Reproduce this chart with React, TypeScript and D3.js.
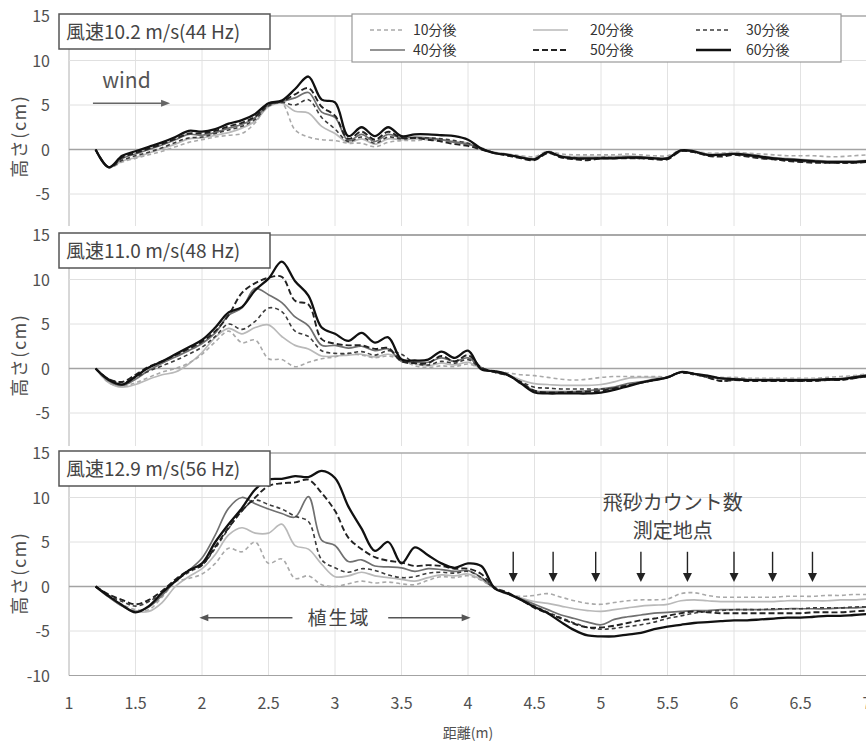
import React from 'react';
import * as d3 from 'd3';

// distance along the flume (m), one sample every 0.1 m
const distance = [
  1.2, 1.3, 1.4, 1.5, 1.6, 1.7, 1.8, 1.9, 2.0, 2.1,
  2.2, 2.3, 2.4, 2.5, 2.6, 2.7, 2.8, 2.9, 3.0, 3.1,
  3.2, 3.3, 3.4, 3.5, 3.6, 3.7, 3.8, 3.9, 4.0, 4.1,
  4.2, 4.3, 4.4, 4.5, 4.6, 4.7, 4.8, 4.9, 5.0, 5.1,
  5.2, 5.3, 5.4, 5.5, 5.6, 5.7, 5.8, 5.9, 6.0, 6.1,
  6.2, 6.3, 6.4, 6.5, 6.6, 6.7, 6.8, 6.9, 7.0,
];

const seriesNames = ['10分後', '20分後', '30分後', '40分後', '50分後', '60分後'];
const panelTitles = ['風速10.2 m/s(44 Hz)', '風速11.0 m/s(48 Hz)', '風速12.9 m/s(56 Hz)'];
const xTicks = [1, 1.5, 2, 2.5, 3, 3.5, 4, 4.5, 5, 5.5, 6, 6.5, 7];
const yTicks = [15, 10, 5, 0, -5, -10];
const measurePoints = [4.34, 4.64, 4.96, 5.3, 5.65, 6.0, 6.29, 6.59];

// panel 1 : 10.2 m/s
const p1_10 = [
  0, -2.0, -1.4, -1.0, -0.6, -0.2, 0.3, 0.8, 1.1, 1.4,
  1.6, 1.8, 3.0, 5.0, 5.2, 2.2, 1.4, 1.1, 1.0, 0.7,
  0.7, 0.3, 0.8, 1.0, 1.0, 1.1, 1.0, 0.8, 0.6, 0.2,
  -0.3, -0.5, -0.7, -0.8, -0.2, -0.5, -0.6, -0.6, -0.6, -0.6,
  -0.5, -0.6, -0.7, -0.7, -0.1, -0.2, -0.4, -0.4, -0.3, -0.4,
  -0.5, -0.6, -0.7, -0.7, -0.7, -0.8, -0.8, -0.7, -0.6,
];
const p1_20 = [
  0, -2.0, -1.3, -0.9, -0.4, 0.1, 0.6, 1.2, 1.3, 1.6,
  1.9, 2.4, 3.2, 4.8, 5.2, 4.3, 4.1, 2.6, 1.8, 0.8,
  1.2, 0.6, 1.2, 1.1, 1.2, 1.2, 1.1, 0.9, 0.7, 0.1,
  -0.4, -0.6, -0.8, -1.0, -0.3, -0.7, -0.8, -0.8, -0.8, -0.8,
  -0.7, -0.8, -0.9, -0.9, -0.1, -0.2, -0.5, -0.5, -0.4, -0.5,
  -0.7, -0.9, -1.0, -1.1, -1.2, -1.3, -1.3, -1.3, -1.2,
];
const p1_30 = [
  0, -2.0, -1.2, -0.7, -0.3, 0.2, 0.8, 1.3, 1.4, 1.8,
  2.2, 2.6, 3.4, 4.9, 5.3, 5.0, 5.6, 3.6, 2.3, 0.9,
  1.4, 0.7, 1.4, 1.2, 1.3, 1.3, 1.2, 1.0, 0.7, 0.1,
  -0.4, -0.6, -0.9, -1.1, -0.3, -0.8, -0.9, -1.1, -0.9, -0.9,
  -0.9, -1.0, -1.0, -1.0, -0.2, -0.3, -0.6, -0.7, -0.5, -0.7,
  -0.9, -1.1, -1.2, -1.3, -1.4, -1.5, -1.5, -1.5, -1.4,
];
const p1_40 = [
  0, -2.0, -1.0, -0.5, 0.0, 0.5, 1.1, 1.7, 1.6, 1.9,
  2.4, 2.8, 3.6, 5.0, 5.4, 5.8, 6.4, 4.2, 3.6, 1.0,
  1.7, 0.9, 1.7, 1.3, 1.4, 1.3, 1.1, 0.8, 0.6, 0.1,
  -0.4, -0.6, -0.9, -1.1, -0.3, -0.8, -1.0, -1.0, -1.0, -0.9,
  -0.9, -0.9, -1.0, -1.0, -0.1, -0.3, -0.6, -0.6, -0.5, -0.7,
  -0.9, -1.0, -1.2, -1.3, -1.4, -1.4, -1.4, -1.4, -1.3,
];
const p1_50 = [
  0, -2.0, -0.9, -0.4, 0.1, 0.6, 1.2, 1.8, 1.8, 2.1,
  2.6, 3.0, 3.7, 5.1, 5.4, 6.2, 6.9, 4.8, 3.8, 1.2,
  2.0, 1.1, 2.0, 1.3, 1.3, 1.1, 0.9, 0.6, 0.4, 0.0,
  -0.4, -0.7, -1.0, -1.2, -0.4, -0.9, -1.1, -1.2, -1.0, -1.0,
  -1.0, -1.0, -1.1, -1.1, -0.2, -0.3, -0.7, -0.8, -0.6, -0.8,
  -1.0, -1.1, -1.3, -1.4, -1.5, -1.5, -1.5, -1.5, -1.4,
];
const p1_60 = [
  0, -2.0, -0.7, -0.2, 0.3, 0.8, 1.4, 2.1, 2.0, 2.3,
  2.9, 3.3, 4.0, 5.2, 5.5, 6.8, 8.2, 5.6, 5.3, 1.5,
  2.5, 1.5, 2.5, 1.5, 1.7, 1.7, 1.6, 1.5, 1.1, 0.1,
  -0.4, -0.6, -0.9, -1.1, -0.3, -0.8, -1.0, -1.0, -1.0, -1.0,
  -0.9, -0.9, -1.0, -1.0, -0.1, -0.2, -0.6, -0.6, -0.5, -0.6,
  -0.8, -1.0, -1.1, -1.2, -1.3, -1.4, -1.4, -1.4, -1.3,
];

// panel 2 : 11.0 m/s
const p2_10 = [
  0, -1.6, -2.0, -1.6, -1.0, -0.4, 0.0, 0.6, 1.6, 3.0,
  4.2, 2.9, 3.2, 1.1, 1.0, 0.2, 0.7, 1.1, 1.3, 1.7,
  1.5, 1.2, 1.4, 1.0, 0.3, 0.1, 0.3, 0.2, 0.5, 0.0,
  -0.3, -0.5, -0.7, -0.8, -1.0, -1.2, -1.3, -1.2, -1.0, -0.9,
  -0.9, -0.9, -0.9, -0.9, -0.4, -0.6, -0.8, -1.0, -1.0, -1.1,
  -1.1, -1.1, -1.1, -1.1, -1.1, -1.0, -0.9, -0.8, -0.6,
];
const p2_20 = [
  0, -1.6, -2.1, -1.8, -1.2, -0.7, -0.4, 0.5, 1.8, 3.5,
  4.5, 3.9, 4.6, 4.9, 3.6, 2.6, 2.2, 1.4, 1.4, 1.5,
  1.6, 1.3, 1.6, 1.1, 0.5, 0.3, 0.6, 0.4, 0.7, 0.0,
  -0.4, -0.7, -1.3, -1.7, -1.8, -1.9, -1.9, -1.9, -1.8, -1.5,
  -1.1, -1.0, -1.0, -1.0, -0.4, -0.6, -0.9, -1.1, -1.1, -1.2,
  -1.2, -1.2, -1.2, -1.2, -1.2, -1.2, -1.1, -0.9, -0.7,
];
const p2_30 = [
  0, -1.2, -1.6, -1.0, -0.3, 0.3, 0.9, 1.6, 2.4, 3.6,
  5.0, 4.4, 5.3, 6.8, 6.4, 4.2, 3.6, 2.0, 1.7, 1.7,
  1.9, 1.5, 2.0, 1.6, 0.6, 0.4, 0.8, 0.6, 1.0, 0.0,
  -0.4, -0.8, -1.5, -2.1, -2.2, -2.3, -2.3, -2.3, -2.3, -2.2,
  -1.9, -1.6, -1.3, -1.0, -0.5, -0.7, -1.0, -1.4, -1.3, -1.3,
  -1.3, -1.4, -1.4, -1.4, -1.4, -1.3, -1.3, -1.1, -0.9,
];
const p2_40 = [
  0, -1.4, -1.9, -1.2, -0.2, 0.6, 1.3, 2.0, 2.8, 4.0,
  6.0, 6.8, 9.0, 8.3, 7.4, 5.8, 4.8, 2.6, 2.6, 2.3,
  2.5, 2.0, 2.2, 0.8, 0.7, 0.7, 1.2, 0.8, 1.2, 0.1,
  -0.4, -0.7, -1.6, -2.5, -2.6, -2.6, -2.6, -2.5, -2.3, -2.1,
  -1.7, -1.5, -1.2, -1.0, -0.4, -0.6, -0.9, -1.1, -1.2, -1.3,
  -1.3, -1.3, -1.3, -1.3, -1.3, -1.3, -1.2, -1.0, -0.8,
];
const p2_50 = [
  0, -1.2, -1.5, -0.7, 0.2, 0.8, 1.5, 2.2, 3.0, 4.2,
  6.0, 8.5, 9.6, 10.2, 10.3, 7.6, 7.2, 3.3, 2.8, 2.6,
  2.6, 2.2, 2.3, 0.8, 0.6, 0.6, 1.4, 0.8, 1.5, 0.1,
  -0.4, -0.8, -1.6, -2.5, -2.7, -2.7, -2.6, -2.6, -2.5, -2.2,
  -1.9, -1.6, -1.3, -1.0, -0.4, -0.6, -1.0, -1.4, -1.3, -1.4,
  -1.4, -1.4, -1.4, -1.4, -1.4, -1.3, -1.3, -1.1, -0.9,
];
const p2_60 = [
  0, -1.3, -1.8, -0.9, 0.1, 0.8, 1.6, 2.4, 3.2, 4.6,
  6.3, 6.9, 8.8, 10.1, 12.0, 9.8, 8.2, 4.6, 3.9, 3.1,
  4.0, 2.9, 3.5, 1.0, 0.9, 1.0, 1.9, 1.2, 2.0, -0.1,
  -0.3, -0.7, -1.7, -2.7, -2.8, -2.8, -2.8, -2.8, -2.7, -2.4,
  -2.0, -1.6, -1.3, -1.0, -0.4, -0.6, -0.8, -1.1, -1.2, -1.3,
  -1.3, -1.3, -1.3, -1.3, -1.3, -1.2, -1.2, -1.0, -0.8,
];

// panel 3 : 12.9 m/s
const p3_10 = [
  0, -1.1, -2.0, -2.6, -2.6, -1.2, 0.5, 0.9, 1.4, 2.6,
  4.3, 3.9, 5.0, 2.6, 3.1, 0.9, 1.2, 0.2, 0.0, 0.3,
  0.6, 0.4, 0.5, 0.3, 0.2, 0.7, 1.1, 1.0, 1.2, 0.7,
  -0.2, -0.9, -1.1, -1.0, -0.8, -1.2, -1.6, -1.9, -2.0, -1.8,
  -1.6, -1.5, -1.5, -1.4, -0.8, -0.7, -1.0, -1.2, -1.2, -1.2,
  -1.2, -1.2, -1.1, -1.1, -1.1, -1.0, -1.0, -0.9, -0.9,
];
const p3_20 = [
  0, -1.2, -2.2, -2.8, -2.8, -1.8, 0.0, 1.1, 2.0, 3.6,
  5.8, 6.6, 6.0, 6.0, 7.0, 4.6, 4.2, 2.5, 1.1, 1.2,
  1.6, 1.2, 1.0, 0.8, 0.6, 1.0, 1.3, 1.2, 1.4, 0.8,
  -0.2, -0.8, -1.3, -1.7, -1.9, -2.2, -2.5, -2.7, -2.8, -2.6,
  -2.4, -2.2, -2.1, -2.0, -1.6, -1.5, -1.6, -1.7, -1.7, -1.7,
  -1.7, -1.7, -1.6, -1.6, -1.6, -1.6, -1.5, -1.5, -1.4,
];
const p3_30 = [
  0, -1.0, -1.7, -2.2, -1.7, -0.7, 0.6, 1.6, 2.4, 4.3,
  6.5, 8.5, 9.7, 9.2, 8.7, 7.9, 7.3, 3.0, 2.1, 1.6,
  2.0, 1.8, 1.3, 1.0, 1.1, 1.5, 1.6, 1.5, 1.7, 1.0,
  -0.2, -0.8, -1.5, -2.2, -2.9, -3.5, -4.1, -4.6, -4.8, -4.7,
  -4.5, -4.3, -4.0, -3.6, -3.3, -3.0, -2.8, -2.7, -2.6, -2.6,
  -2.6, -2.5, -2.5, -2.5, -2.4, -2.4, -2.4, -2.3, -2.3,
];
const p3_40 = [
  0, -1.2, -2.2, -2.8, -2.3, -1.0, 0.6, 1.8, 3.2, 5.8,
  8.8, 10.0, 9.3, 8.7, 8.2, 7.8, 10.1, 5.2, 4.6, 2.8,
  3.0, 2.3, 2.2, 2.1, 1.7, 2.0, 1.9, 1.7, 1.8, 1.0,
  -0.2, -0.8, -1.4, -2.0, -2.6, -3.2, -3.6, -4.0, -4.3, -3.7,
  -3.4, -3.2, -3.0, -2.9, -2.8, -2.7, -2.7, -2.6, -2.6, -2.6,
  -2.6, -2.6, -2.5, -2.5, -2.5, -2.5, -2.4, -2.4, -2.3,
];
const p3_50 = [
  0, -0.9, -1.5, -2.0, -1.5, -0.5, 0.8, 1.8, 2.4, 4.5,
  6.6, 8.5, 10.0, 11.3, 11.6, 11.7, 12.0, 10.5, 8.5, 5.5,
  4.2, 3.3, 2.9, 2.7, 2.3, 2.4, 2.3, 2.0, 2.0, 1.4,
  -0.1, -0.7, -1.5, -2.4, -3.0, -3.6, -4.2, -4.6, -4.6, -4.4,
  -4.1, -3.8, -3.6, -3.3, -3.0, -2.8, -2.9, -3.0, -3.0, -3.0,
  -3.0, -3.0, -3.0, -3.0, -2.9, -2.9, -2.9, -2.8, -2.7,
];
const p3_60 = [
  0, -1.1, -2.1, -2.9, -2.2, -0.7, 0.6, 1.8, 2.6, 5.0,
  7.0, 8.8, 10.9, 12.0, 12.1, 12.4, 12.3, 13.0, 12.2, 9.0,
  6.5, 4.0, 5.0, 2.6, 4.4, 3.5, 2.6, 2.1, 2.6, 2.3,
  -0.2, -0.8, -1.5, -2.3, -3.0, -4.0, -4.9, -5.5, -5.6, -5.6,
  -5.4, -5.2, -4.8, -4.5, -4.3, -4.1, -4.0, -3.9, -3.8, -3.8,
  -3.7, -3.6, -3.5, -3.5, -3.4, -3.3, -3.3, -3.2, -3.1,
];

const panels = [
  [p1_10, p1_20, p1_30, p1_40, p1_50, p1_60],
  [p2_10, p2_20, p2_30, p2_40, p2_50, p2_60],
  [p3_10, p3_20, p3_30, p3_40, p3_50, p3_60],
];

const FONT = '"Noto Sans CJK JP", "Noto Sans", sans-serif';
const TEXT = '#505050';

// line look of each series: 10,20,30,40,50,60分後
const styles = [
  { stroke: '#a9a9a9', width: 1.6, dash: '4 3' },
  { stroke: '#b9b9b9', width: 1.7, dash: '' },
  { stroke: '#3c3c3c', width: 1.6, dash: '4 3' },
  { stroke: '#707070', width: 1.7, dash: '' },
  { stroke: '#222', width: 1.9, dash: '6 3' },
  { stroke: '#111', width: 2.3, dash: '' },
];
const drawOrder = [1, 0, 3, 2, 4, 5];

const x = d3.scaleLinear().domain([1, 7]).range([69, 867]);
const panelTops = [16, 235, 453];
const clips = [[0, 226], [226, 446], [446, 746]];

function Panel({ idx }: { idx: number }) {
  const top = panelTops[idx];
  const y = d3.scaleLinear().domain([-10, 15]).range([top + 222.5, top]);
  const line = d3
    .line<number>()
    .x((_, i) => x(distance[i]))
    .y((d) => y(d))
    .curve(d3.curveCatmullRom.alpha(0.5));
  const series = panels[idx];
  const [c0, c1] = clips[idx];
  // the lowest tick label of the upper two panels is hidden under the next panel
  const labelTicks = idx === 2 ? yTicks : yTicks.filter((t) => t > -10);

  return (
    <g clipPath={`url(#clip${idx})`}>
      <rect x={0} y={c0} width={866} height={c1 - c0} fill="#fff" />
      {xTicks.map((t) => (
        <line key={'vx' + t} x1={x(t)} x2={x(t)} y1={top} y2={y(-10)}
          stroke={t === 1 ? '#b0b0b0' : '#e2e2e2'} strokeWidth={1} />
      ))}
      {yTicks.map((t) => (
        <line key={'hy' + t} x1={x(1)} x2={866} y1={y(t)} y2={y(t)}
          stroke={t === 0 || t === -10 ? '#a3a3a3' : t === 15 ? '#a8a8a8' : '#e0e0e0'}
          strokeWidth={t === 0 ? 1.4 : t === 15 ? (idx === 1 ? 2.2 : 1.5) : 1} />
      ))}
      {labelTicks.map((t) => (
        <text key={'ly' + t} x={50} y={y(t) + 6} textAnchor="end" fontSize={16}
          fontFamily={FONT} fill={TEXT}>{t}</text>
      ))}
      <text transform={`translate(26,${y(1.5)}) rotate(-90)`} textAnchor="middle"
        fontSize={18} letterSpacing={1.5} fontFamily={FONT} fill={TEXT}>高さ(cm)</text>

      {drawOrder.map((s) => (
        <path key={s} d={line(series[s]) || ''} fill="none" stroke={styles[s].stroke}
          strokeWidth={styles[s].width} strokeDasharray={styles[s].dash || undefined}
          strokeLinejoin="round" />
      ))}

      <rect x={59} y={top - 2} width={211} height={35} fill="#fff" stroke="#555" strokeWidth={1.5} />
      <text x={66} y={top + 23} fontSize={19} fontFamily={FONT} fill="#444">{panelTitles[idx]}</text>

      {idx === 0 && <Legend />}
      {idx === 0 && (
        <g>
          <text x={x(1.25)} y={y(6.9)} fontSize={21} fontFamily={FONT} fill="#555">wind</text>
          <line x1={x(1.18)} x2={x(1.73)} y1={y(5.2)} y2={y(5.2)} stroke="#666" strokeWidth={1.5} />
          <path d={`M${x(1.76)},${y(5.2)} l-9,-3.5 l0,7 z`} fill="#666" />
        </g>
      )}
      {idx === 2 && (
        <g>
          {xTicks.map((t) => (
            <text key={'lx' + t} x={x(t)} y={709} textAnchor="middle" fontSize={16}
              fontFamily={FONT} fill={TEXT}>{t}</text>
          ))}
          <text x={468} y={738} textAnchor="middle" fontSize={14} fontFamily={FONT} fill={TEXT}>距離(m)</text>
          <text x={x(5.54)} y={y(8.6)} textAnchor="middle" fontSize={20} fontFamily={FONT} fill="#444">飛砂カウント数</text>
          <text x={x(5.54)} y={y(5.5)} textAnchor="middle" fontSize={20} fontFamily={FONT} fill="#444">測定地点</text>
          {measurePoints.map((m) => (
            <g key={'m' + m}>
              <line x1={x(m)} x2={x(m)} y1={y(3.9)} y2={y(1.2)} stroke="#222" strokeWidth={1.4} />
              <path d={`M${x(m)},${y(0.5)} l-4.5,-9 l9,0 z`} fill="#222" />
            </g>
          ))}
          <line x1={x(2.02)} x2={x(2.68)} y1={y(-3.5)} y2={y(-3.5)} stroke="#555" strokeWidth={1.5} />
          <path d={`M${x(1.98)},${y(-3.5)} l9,-3.5 l0,7 z`} fill="#555" />
          <text x={x(3.03)} y={y(-3.5) + 7} textAnchor="middle" fontSize={19} letterSpacing={2}
            fontFamily={FONT} fill="#444">植生域</text>
          <line x1={x(3.4)} x2={x(3.98)} y1={y(-3.5)} y2={y(-3.5)} stroke="#555" strokeWidth={1.5} />
          <path d={`M${x(4.02)},${y(-3.5)} l-9,-3.5 l0,7 z`} fill="#555" />
        </g>
      )}
    </g>
  );
}

function Legend() {
  const cols = [[370, 413], [533, 590], [696, 746]];
  const rows = [30, 50];
  return (
    <g>
      <rect x={352} y={14} width={489} height={48} fill="#fff" stroke="#999" strokeWidth={1.2} />
      {seriesNames.map((name, i) => {
        const [lx, tx] = cols[i % 3];
        const ry = rows[Math.floor(i / 3)];
        return (
          <g key={name}>
            <line x1={lx} x2={lx + 35} y1={ry} y2={ry} stroke={styles[i].stroke}
              strokeWidth={styles[i].width} strokeDasharray={styles[i].dash || undefined} />
            <text x={tx} y={ry + 5} fontSize={14} fontFamily={FONT} fill="#333">{name}</text>
          </g>
        );
      })}
    </g>
  );
}

export default function App() {
  return (
    <svg width={866} height={746} style={{ position: 'absolute', left: 0, top: 0, background: '#fff' }}>
      <defs>
        {clips.map(([a, b], i) => (
          <clipPath key={i} id={`clip${i}`}>
            <rect x={0} y={a} width={866} height={b - a} />
          </clipPath>
        ))}
      </defs>
      {[0, 1, 2].map((i) => (
        <Panel key={i} idx={i} />
      ))}
    </svg>
  );
}
